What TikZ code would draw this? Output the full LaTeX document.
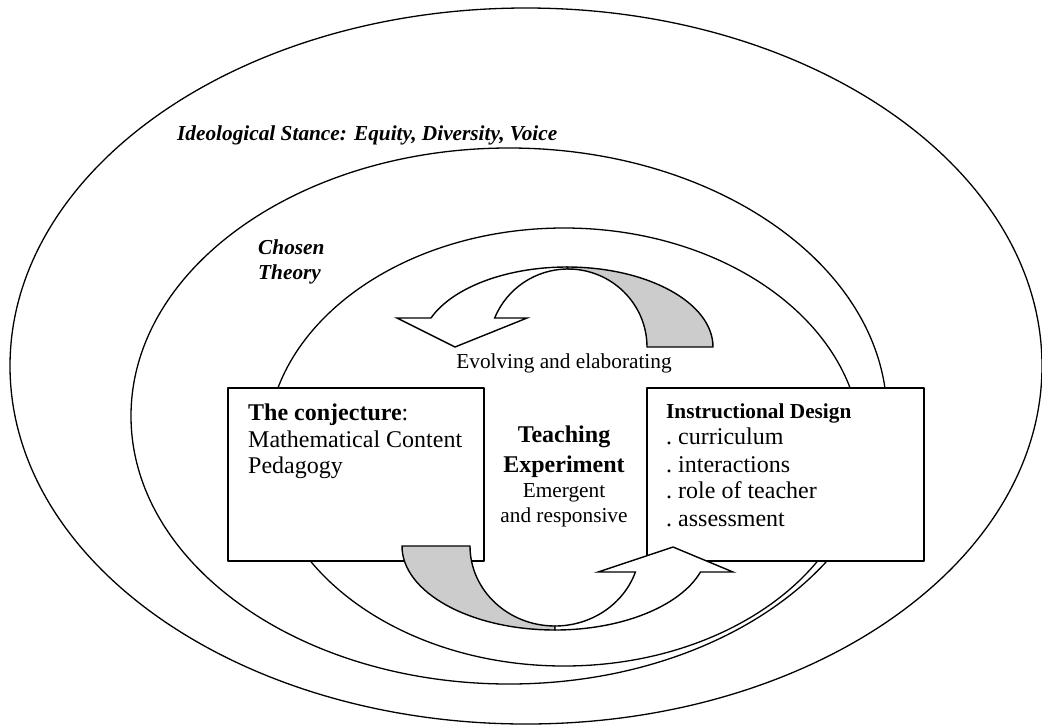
\documentclass[tikz,border=0pt]{standalone}
\usepackage{fontspec}
\setmainfont{Liberation Serif}
\usetikzlibrary{positioning}
\definecolor{shade}{RGB}{204,204,204}
\newcommand{\lblsize}{\fontsize{21.3}{26}\selectfont}
\newcommand{\boxsize}{\fontsize{24}{28}\selectfont}

\begin{document}
\begin{tikzpicture}[x=1pt, y=-1pt, line join=round]
		\tikzstyle{ring} = [line width=1.3pt]
		\tikzstyle{panel} = [draw, line width=1.6pt, fill=white, anchor=north west, inner sep=0pt]
		\tikzstyle{band} = [draw, line width=1.4pt, line join=miter]
		\tikzstyle{ln} = [inner sep=0pt, anchor=base west]
		\tikzstyle{mid} = [inner sep=0pt, anchor=base]

		\useasboundingbox (0,0) rectangle (1042,724);

		% the three rings
		\draw[ring] (526,366) ellipse [x radius=516, y radius=358];
		\draw[ring] (509,416) ellipse [x radius=378, y radius=268];
		\draw[ring] (564,447) ellipse [x radius=297, y radius=219];

		% boxes
		\node[panel, minimum width=256pt, minimum height=173pt] (conj) at (227,387) {};
		\node[panel, minimum width=277pt, minimum height=173pt] (design) at (646,387) {};

		% labels
		\node[ln, font=\lblsize\bfseries\itshape] (stance) at (177,140) {Ideological Stance: Equity, Diversity, Voice};
		\node[ln, font=\lblsize\bfseries\itshape] (chosen) at (258,254) {Chosen};
		\node[ln, font=\lblsize\bfseries\itshape] (theory) at (258,279) {Theory};
		\node[mid, font=\lblsize] (evolve) at (564,368) {Evolving and elaborating};

		\node[ln, font=\boxsize] (conj1) at (248,420) {\textbf{The conjecture}:};
		\node[ln, font=\boxsize] (conj2) at (248,447) {Mathematical Content};
		\node[ln, font=\boxsize] (conj3) at (248,473) {Pedagogy};

		\node[mid, font=\boxsize\bfseries] (teach1) at (564,442) {Teaching};
		\node[mid, font=\boxsize\bfseries] (teach2) at (564,472) {Experiment};
		\node[mid, font=\lblsize] (emerg1) at (564,497) {Emergent};
		\node[mid, font=\lblsize] (emerg2) at (564,522) {and responsive};

		\node[ln, font=\lblsize\bfseries] (head) at (666,418) {Instructional Design};
		\foreach \t/\y [count=\i] in {curriculum/444, interactions/472, role of teacher/498, assessment/526}
			\node[ln, font=\boxsize] (item\i) at (666,\y) {.\ \t};

		% upper curved arrow
		\draw[band, fill=shade] (567,267) arc[start angle=-90, end angle=0, x radius=146, y radius=80]
			-- (647,347) arc[start angle=0, end angle=-90, x radius=79, y radius=78] -- cycle;
		\draw[band, fill=white] (567,267) arc[start angle=-90, end angle=-158.75, x radius=146, y radius=80]
			-- (397,318) -- (455,347) -- (527,318) -- (494.7,318)
			arc[start angle=-158.17, end angle=-90, x radius=79, y radius=78] -- cycle;

		% lower curved arrow
		\draw[band, fill=shade] (402,546) arc[start angle=180, end angle=90, x radius=153, y radius=84]
			-- (555,626) arc[start angle=90, end angle=180, x radius=85, y radius=80] -- cycle;
		\draw[band, fill=white] (555,630) arc[start angle=90, end angle=18.03, x radius=153, y radius=84]
			-- (733,572) -- (673,547) -- (598,572) -- (635.4,572)
			arc[start angle=18.97, end angle=90, x radius=85, y radius=80] -- cycle;
\end{tikzpicture}
\end{document}
